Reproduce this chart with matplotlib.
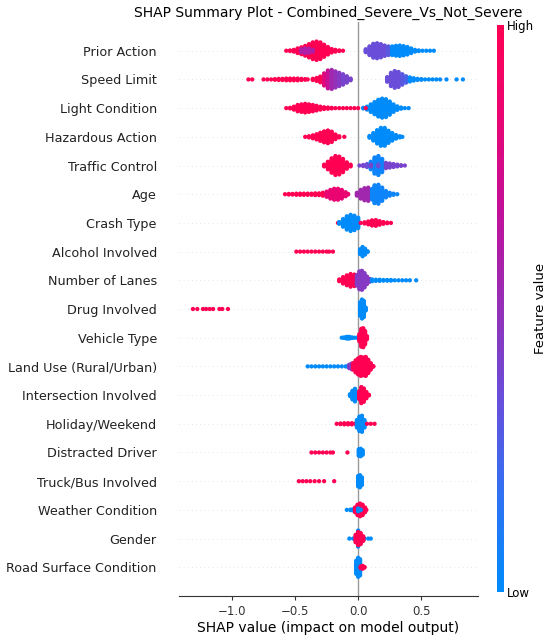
import numpy as np
import matplotlib
matplotlib.use("Agg")
import matplotlib.pyplot as plt
from matplotlib.colors import LinearSegmentedColormap
from matplotlib.cm import ScalarMappable

features = ["Prior Action", "Speed Limit", "Light Condition", "Hazardous Action",
            "Traffic Control", "Age", "Crash Type", "Alcohol Involved",
            "Number of Lanes", "Drug Involved", "Vehicle Type",
            "Land Use (Rural/Urban)", "Intersection Involved", "Holiday/Weekend",
            "Distracted Driver", "Truck/Bus Involved", "Weather Condition",
            "Gender", "Road Surface Condition"]

# (shap value, half height of swarm in row units, feature value 0=low..1=high)
prior_action = [
    (-0.57, 0.07, 1), (-0.54, 0.08, 1), (-0.51, 0.10, 1), (-0.48, 0.15, 1),
    (-0.45, 0.19, 1), (-0.42, 0.24, 1), (-0.39, 0.30, 1), (-0.36, 0.36, 1),
    (-0.33, 0.39, 1), (-0.30, 0.36, 1), (-0.27, 0.28, 1), (-0.24, 0.20, 1),
    (-0.21, 0.13, 1), (-0.18, 0.10, 1), (-0.15, 0.08, 1), (-0.12, 0.07, 1),
    (-0.45, 0.12, 0.6), (-0.42, 0.15, 0.6), (-0.39, 0.14, 0.6), (-0.36, 0.10, 0.6),
    (0.06, 0.12, 0.35), (0.09, 0.22, 0.35), (0.12, 0.31, 0.35), (0.15, 0.33, 0.35),
    (0.18, 0.30, 0.35), (0.21, 0.25, 0.35), (0.24, 0.22, 0.3),
    (0.27, 0.22, 0), (0.30, 0.24, 0), (0.33, 0.25, 0), (0.36, 0.23, 0),
    (0.39, 0.20, 0), (0.42, 0.15, 0), (0.45, 0.10, 0), (0.48, 0.08, 0),
    (0.51, 0.07, 0), (0.54, 0.07, 0), (0.57, 0.07, 0), (0.60, 0.07, 0)]
speed_limit = [
    (-0.87, 0.07, 1), (-0.84, 0.07, 1),
    (-0.75, 0.07, 1), (-0.72, 0.07, 1), (-0.69, 0.07, 1), (-0.66, 0.08, 1),
    (-0.63, 0.09, 1), (-0.60, 0.09, 1), (-0.57, 0.10, 1), (-0.54, 0.10, 1),
    (-0.51, 0.10, 1), (-0.48, 0.10, 1), (-0.45, 0.09, 1), (-0.42, 0.08, 1),
    (-0.40, 0.07, 1), (-0.36, 0.09, 1), (-0.33, 0.12, 1), (-0.30, 0.17, 1),
    (-0.27, 0.28, 0.8), (-0.24, 0.38, 0.7), (-0.21, 0.40, 0.55), (-0.18, 0.35, 0.5),
    (-0.15, 0.30, 0.45), (-0.12, 0.25, 0.4), (-0.09, 0.18, 0.4), (-0.06, 0.10, 0.4),
    (0.23, 0.15, 0.35), (0.26, 0.30, 0.35), (0.29, 0.36, 0.35), (0.32, 0.33, 0.35),
    (0.35, 0.25, 0.3), (0.38, 0.18, 0.25),
    (0.41, 0.14, 0), (0.44, 0.11, 0), (0.47, 0.09, 0), (0.50, 0.08, 0),
    (0.53, 0.07, 0), (0.56, 0.07, 0), (0.59, 0.07, 0), (0.62, 0.07, 0),
    (0.65, 0.07, 0), (0.70, 0.07, 0), (0.78, 0.07, 0), (0.83, 0.07, 0)]
light_condition = [
    (-0.57, 0.07, 1), (-0.54, 0.08, 1), (-0.51, 0.12, 1), (-0.48, 0.18, 1),
    (-0.45, 0.20, 1), (-0.42, 0.22, 1), (-0.39, 0.20, 1), (-0.36, 0.18, 1),
    (-0.33, 0.15, 1), (-0.30, 0.12, 1), (-0.27, 0.10, 1), (-0.24, 0.09, 1),
    (-0.21, 0.08, 1), (-0.18, 0.07, 1), (-0.15, 0.07, 1), (-0.12, 0.07, 1),
    (-0.09, 0.07, 1), (-0.06, 0.07, 1), (-0.03, 0.07, 1), (0.00, 0.07, 1),
    (0.04, 0.08, 0), (0.07, 0.12, 0), (0.10, 0.20, 0), (0.13, 0.28, 0),
    (0.16, 0.36, 0), (0.19, 0.40, 0), (0.22, 0.38, 0), (0.25, 0.30, 0),
    (0.28, 0.20, 0), (0.31, 0.13, 0), (0.34, 0.09, 0), (0.37, 0.07, 0),
    (0.40, 0.07, 0), (0.06, 0.07, 1)]
hazardous_action = [
    (-0.42, 0.07, 1), (-0.39, 0.09, 1), (-0.36, 0.12, 1), (-0.33, 0.16, 1),
    (-0.30, 0.21, 1), (-0.27, 0.26, 1), (-0.24, 0.29, 1), (-0.21, 0.25, 1),
    (-0.18, 0.15, 1), (-0.15, 0.09, 1), (-0.11, 0.07, 1),
    (0.09, 0.10, 0), (0.12, 0.20, 0), (0.15, 0.30, 0), (0.18, 0.38, 0),
    (0.21, 0.38, 0), (0.24, 0.28, 0), (0.27, 0.20, 0), (0.30, 0.13, 0),
    (0.33, 0.09, 0), (0.35, 0.07, 0)]
traffic_control = [
    (-0.27, 0.10, 1), (-0.24, 0.20, 1), (-0.21, 0.32, 1), (-0.18, 0.40, 1),
    (-0.15, 0.38, 1), (-0.12, 0.30, 1), (-0.09, 0.18, 1), (-0.06, 0.10, 1),
    (0.01, 0.07, 0.4), (0.04, 0.09, 0.4), (0.07, 0.12, 0.35),
    (0.10, 0.20, 0.05), (0.13, 0.35, 0.05), (0.16, 0.40, 0.05), (0.19, 0.30, 0.05),
    (0.22, 0.16, 0.4), (0.25, 0.14, 0.4), (0.28, 0.12, 0.4), (0.31, 0.10, 0.4),
    (0.34, 0.08, 0.4), (0.37, 0.07, 0.4), (0.10, 0.10, 0.4), (0.16, 0.10, 0.35)]
age = [
    (-0.58, 0.07, 1), (-0.55, 0.08, 1), (-0.52, 0.08, 1), (-0.49, 0.09, 1),
    (-0.46, 0.09, 1), (-0.43, 0.09, 1), (-0.40, 0.09, 1), (-0.37, 0.09, 1),
    (-0.34, 0.10, 1), (-0.31, 0.10, 1), (-0.28, 0.12, 1),
    (-0.25, 0.16, 0.85), (-0.22, 0.22, 0.85), (-0.19, 0.26, 0.85),
    (-0.16, 0.26, 0.85), (-0.13, 0.22, 0.85), (-0.10, 0.14, 0.85), (-0.08, 0.08, 0.85),
    (-0.01, 0.12, 0.55), (0.02, 0.22, 0.55), (0.05, 0.28, 0.55), (0.08, 0.30, 0.55),
    (0.11, 0.25, 0.05), (0.13, 0.38, 0.05), (0.16, 0.40, 0.05), (0.19, 0.30, 0.05),
    (0.22, 0.18, 0.05), (0.25, 0.12, 0.05), (0.28, 0.09, 0.05), (0.31, 0.07, 0.05)]
crash_type = [
    (-0.16, 0.07, 1),
    (-0.15, 0.10, 0), (-0.12, 0.20, 0), (-0.09, 0.30, 0), (-0.06, 0.35, 0),
    (-0.03, 0.32, 0), (0.00, 0.25, 0),
    (0.02, 0.07, 1), (0.05, 0.09, 1), (0.08, 0.12, 1), (0.11, 0.16, 1),
    (0.14, 0.17, 1), (0.17, 0.13, 1), (0.20, 0.10, 1), (0.23, 0.08, 1), (0.26, 0.07, 1)]
alcohol_involved = [
    (-0.49, 0.07, 1), (-0.46, 0.07, 1), (-0.43, 0.07, 1), (-0.40, 0.07, 1),
    (-0.37, 0.07, 1), (-0.34, 0.07, 1), (-0.31, 0.07, 1), (-0.28, 0.07, 1),
    (-0.25, 0.07, 1), (-0.23, 0.07, 1), (-0.20, 0.07, 1),
    (0.015, 0.15, 0), (0.035, 0.23, 0), (0.055, 0.17, 0), (0.075, 0.08, 0)]
number_of_lanes = [
    (-0.15, 0.10, 1), (-0.12, 0.18, 1), (-0.09, 0.24, 1), (-0.06, 0.29, 1),
    (-0.03, 0.27, 1), (0.00, 0.20, 1),
    (-0.01, 0.25, 0.45), (0.01, 0.38, 0.45), (0.03, 0.40, 0.45), (0.05, 0.32, 0.45),
    (0.07, 0.20, 0.45), (0.09, 0.12, 0.45),
    (0.11, 0.10, 0), (0.14, 0.09, 0), (0.17, 0.09, 0), (0.20, 0.08, 0),
    (0.23, 0.08, 0), (0.26, 0.08, 0), (0.29, 0.07, 0), (0.32, 0.07, 0),
    (0.35, 0.07, 0), (0.38, 0.07, 0), (0.41, 0.07, 0), (0.46, 0.07, 0)]
drug_involved = [
    (-1.31, 0.07, 1), (-1.275, 0.07, 1), (-1.23, 0.07, 1), (-1.205, 0.07, 1),
    (-1.177, 0.07, 1), (-1.15, 0.07, 1), (-1.10, 0.07, 1), (-1.077, 0.07, 1),
    (-1.032, 0.07, 1),
    (0.015, 0.30, 0), (0.03, 0.40, 0), (0.045, 0.35, 0), (0.06, 0.12, 0)]
vehicle_type = [
    (-0.13, 0.07, 0), (-0.11, 0.08, 0), (-0.09, 0.10, 0), (-0.07, 0.10, 0),
    (-0.05, 0.08, 0), (-0.03, 0.07, 0), (-0.01, 0.07, 0),
    (0.01, 0.20, 1), (0.025, 0.38, 1), (0.04, 0.40, 1), (0.055, 0.30, 1), (0.07, 0.12, 1)]
land_use = [
    (-0.40, 0.07, 0), (-0.37, 0.07, 0), (-0.34, 0.07, 0), (-0.31, 0.07, 0),
    (-0.28, 0.07, 0), (-0.25, 0.07, 0), (-0.22, 0.07, 0), (-0.19, 0.07, 0),
    (-0.16, 0.07, 0), (-0.13, 0.07, 0), (-0.10, 0.07, 0), (-0.08, 0.09, 0),
    (-0.07, 0.13, 0.45), (-0.05, 0.17, 0.45), (-0.03, 0.15, 0.45),
    (-0.04, 0.18, 1), (-0.02, 0.28, 1), (0.00, 0.35, 1), (0.02, 0.40, 1),
    (0.04, 0.38, 1), (0.06, 0.40, 1), (0.08, 0.30, 1), (0.10, 0.18, 1), (0.12, 0.08, 1)]
intersection_involved = [
    (-0.065, 0.10, 0), (-0.045, 0.22, 0), (-0.025, 0.29, 0), (-0.008, 0.18, 0),
    (0.008, 0.20, 1), (0.025, 0.35, 1), (0.045, 0.30, 1), (0.065, 0.18, 1), (0.085, 0.08, 1)]
holiday_weekend = [
    (-0.17, 0.07, 1), (-0.14, 0.08, 1), (-0.11, 0.09, 1), (-0.08, 0.09, 1),
    (-0.05, 0.09, 1), (-0.02, 0.08, 1),
    (-0.01, 0.20, 0), (0.01, 0.32, 0), (0.03, 0.35, 0), (0.05, 0.20, 0),
    (0.07, 0.07, 1), (0.10, 0.07, 1), (0.13, 0.07, 1)]
distracted_driver = [
    (-0.37, 0.07, 1), (-0.34, 0.07, 1), (-0.31, 0.07, 1), (-0.28, 0.07, 1),
    (-0.25, 0.07, 1), (-0.22, 0.07, 1), (-0.20, 0.07, 1), (-0.085, 0.07, 1),
    (0.005, 0.18, 0), (0.02, 0.20, 0), (0.035, 0.15, 0)]
truck_bus_involved = [
    (-0.47, 0.07, 1), (-0.44, 0.07, 1), (-0.41, 0.07, 1), (-0.38, 0.07, 1),
    (-0.345, 0.07, 1), (-0.31, 0.07, 1), (-0.27, 0.07, 1), (-0.19, 0.07, 1),
    (0.00, 0.25, 0), (0.015, 0.28, 0), (0.03, 0.20, 0)]
weather_condition = [
    (-0.09, 0.07, 0), (-0.06, 0.08, 0), (-0.04, 0.09, 0),
    (-0.025, 0.15, 1), (-0.005, 0.25, 1), (0.015, 0.29, 1), (0.035, 0.25, 1),
    (0.055, 0.15, 1), (0.065, 0.07, 1), (0.00, 0.12, 0), (0.02, 0.08, 0)]
gender = [
    (0.00, 0.35, 0),
    (-0.07, 0.07, 0), (-0.04, 0.07, 0), (-0.01, 0.07, 0), (0.02, 0.07, 0),
    (0.05, 0.07, 0), (0.08, 0.07, 0), (0.10, 0.07, 0),
    (-0.02, 0.20, 1), (0.00, 0.30, 1), (0.02, 0.26, 1), (0.04, 0.15, 1)]
road_surface = [
    (-0.015, 0.30, 0), (0.00, 0.40, 0), (0.015, 0.35, 0),
    (0.02, 0.10, 1), (0.035, 0.12, 1), (0.05, 0.08, 1)]

rows = [prior_action, speed_limit, light_condition, hazardous_action,
        traffic_control, age, crash_type, alcohol_involved, number_of_lanes,
        drug_involved, vehicle_type, land_use, intersection_involved,
        holiday_weekend, distracted_driver, truck_bus_involved,
        weather_condition, gender, road_surface]

cmap = LinearSegmentedColormap.from_list(
    "red_blue", ["#008bfb", "#2f72f3", "#6650db", "#9430b8",
                 "#c0119b", "#e80575", "#ff0052"])

fig = plt.figure(figsize=(5.5, 6.37), dpi=100)
ax = fig.add_axes([0.3255, 0.0644, 0.5436, 0.901])

n = len(features)
dot_r = 0.07
step = 0.035
px, py, pc = [], [], []
for i, row in enumerate(rows):
    y0 = n - 1 - i
    ax.axhline(y0, color="#cccccc", lw=0.5, dashes=(1, 5), zorder=-1)
    for x, t, c in row:
        h = max(t - dot_r, 0)
        k = int(round(2 * h / step)) + 1
        for yy in np.linspace(-h, h, k):
            px.append(x)
            py.append(y0 + yy)
            pc.append(c)

ax.axvline(0, color="#999999", lw=1, zorder=-1)
ax.scatter(px, py, s=9.5, c=pc, cmap=cmap, vmin=0, vmax=1, linewidths=0, zorder=3)

ax.set_xlim(-1.42, 0.95)
ax.set_ylim(-1, n)
ax.set_yticks(range(n))
ax.set_yticklabels(features[::-1], fontsize=9.2, color="#222222")
ax.tick_params(axis="y", length=0, pad=16)
ax.set_xticks([-1.0, -0.5, 0.0, 0.5])
ax.tick_params(axis="x", labelsize=8.5, color="#333333", labelcolor="#333333", length=3)
for s in ["top", "right", "left"]:
    ax.spines[s].set_visible(False)
ax.spines["bottom"].set_color("#333333")
ax.set_xlabel("SHAP value (impact on model output)", fontsize=10, labelpad=2)
ax.set_title("SHAP Summary Plot - Combined_Severe_Vs_Not_Severe", fontsize=10, pad=4)

cax = fig.add_axes([0.9036, 0.0706, 0.0127, 0.89])
cb = fig.colorbar(ScalarMappable(cmap=cmap), cax=cax, ticks=[0, 1])
cb.set_ticklabels(["Low", "High"])
cb.ax.tick_params(labelsize=8.5, length=0, pad=2)
cb.set_label("Feature value", fontsize=9.5, labelpad=0)
cb.outline.set_visible(False)

plt.savefig("out.png", dpi=100)
